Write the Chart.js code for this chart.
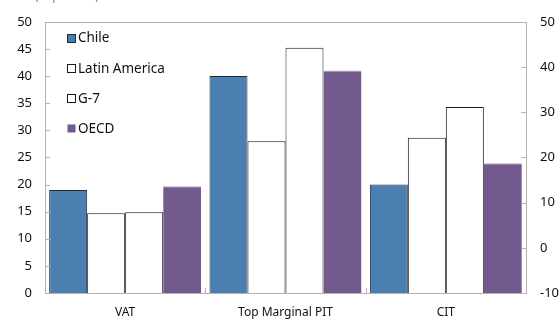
<!DOCTYPE html>
<html>
<head>
<meta charset="utf-8">
<script src="https://cdn.jsdelivr.net/npm/chart.js@4/dist/chart.umd.min.js"></script>
<style>
  html, body { margin: 0; padding: 0; background: #fff; }
  #wrap { width: 560px; height: 320px; position: relative; }
</style>
</head>
<body>
<div id="wrap"><canvas id="c" width="560" height="320"></canvas></div>
<script>
// Tax rates by instrument (in percent)
const categories = ['VAT', 'Top Marginal PIT', 'CIT'];
const seriesNames = ['Chile', 'Latin America', 'G-7', 'OECD'];
const chile = [19.0, 40.0, 20.0];
const latinAmerica = [14.7, 28.0, 28.6];
const g7 = [14.9, 45.2, 34.3];
const oecd = [19.7, 41.0, 23.9];
const leftTicks = [0, 5, 10, 15, 20, 25, 30, 35, 40, 45, 50];
const rightTicks = [-10, 0, 10, 20, 30, 40, 50];

const FONT = "'Noto Sans', 'Open Sans', sans-serif";
const BLUE = '#4a7fb0';
const PURPLE = '#72598e';

const datasets = [
  { label: seriesNames[0], data: chile, backgroundColor: BLUE, borderColor: '#1e2b38', borderWidth: 1 },
  { label: seriesNames[1], data: latinAmerica, backgroundColor: '#ffffff', borderColor: '#1a1a1a', borderWidth: 1 },
  { label: seriesNames[2], data: g7, backgroundColor: '#ffffff', borderColor: '#1a1a1a', borderWidth: 1 },
  { label: seriesNames[3], data: oecd, backgroundColor: PURPLE, borderColor: '#b9a9d0', borderWidth: { top: 1, left: 0, right: 0, bottom: 0 } }
];

// Frame, inward tick marks, in-plot legend and heading
const decorations = {
  id: 'decorations',
  afterDraw(chart) {
    const ctx = chart.ctx;
    const a = chart.chartArea;
    const y = chart.scales.y, y1 = chart.scales.y1, x = chart.scales.x;
    ctx.save();
    ctx.strokeStyle = '#b4b4b4';
    ctx.lineWidth = 1;
    ctx.strokeRect(Math.round(a.left) + 0.5, Math.round(a.top) + 0.5,
      Math.round(a.right - a.left), Math.round(a.bottom - a.top));
    ctx.beginPath();
    leftTicks.forEach(v => {
      const py = Math.round(y.getPixelForValue(v)) + 0.5;
      ctx.moveTo(a.left, py); ctx.lineTo(a.left + 5, py);
    });
    rightTicks.forEach(v => {
      const py = Math.round(y1.getPixelForValue(v)) + 0.5;
      ctx.moveTo(a.right, py); ctx.lineTo(a.right - 5, py);
    });
    for (let i = 1; i < categories.length; i++) {
      const px = Math.round((x.getPixelForValue(i - 1) + x.getPixelForValue(i)) / 2) + 0.5;
      ctx.moveTo(px, a.bottom); ctx.lineTo(px, a.bottom - 5);
    }
    ctx.stroke();

    // legend
    ctx.font = '13.5px ' + FONT;
    ctx.textBaseline = 'middle';
    chart.data.datasets.forEach((ds, i) => {
      const cy = 38 + i * 30.2;
      const bx = 67.5, by = Math.round(cy - 4.5) + 0.5;
      ctx.fillStyle = ds.backgroundColor;
      ctx.fillRect(bx, by, 8, 8);
      if (i < 3) {
        ctx.strokeStyle = i === 0 ? '#1e2b38' : '#1a1a1a';
        ctx.strokeRect(bx, by, 8, 8);
      }
      ctx.fillStyle = '#111';
      ctx.fillText(ds.label, 78, cy + 0.5);
    });

    // heading, mostly above the canvas edge
    ctx.font = '12px ' + FONT;
    ctx.textBaseline = 'alphabetic';
    ctx.fillStyle = '#3d8fdc';
    ctx.fillText('(in percent)', 35, 0);
    ctx.restore();
  }
};

new Chart(document.getElementById('c'), {
  type: 'bar',
  data: { labels: categories, datasets },
  options: {
    responsive: false,
    animation: false,
    layout: { padding: { top: 20, left: 0, right: 0, bottom: 0 } },
    plugins: { legend: { display: false }, tooltip: { enabled: false } },
    datasets: { bar: { categoryPercentage: 0.948, barPercentage: 1 } },
    scales: {
      x: {
        grid: { display: false, drawTicks: false },
        border: { display: false },
        ticks: { color: '#111', font: { family: FONT, size: 12 }, padding: 12 },
        afterFit(s) { s.height = 27; }
      },
      y: {
        position: 'left',
        min: 0, max: 50,
        grid: { display: false, drawTicks: false },
        border: { display: false },
        ticks: { stepSize: 5, color: '#111', font: { family: FONT, size: 13 }, padding: 13 },
        afterFit(s) { s.width = 45; }
      },
      y1: {
        position: 'right',
        min: -10, max: 50,
        grid: { display: false, drawTicks: false },
        border: { display: false },
        ticks: { stepSize: 10, color: '#111', font: { family: FONT, size: 13 }, padding: 14 },
        afterFit(s) { s.width = 34; }
      }
    }
  },
  plugins: [decorations]
});
</script>
</body>
</html>
